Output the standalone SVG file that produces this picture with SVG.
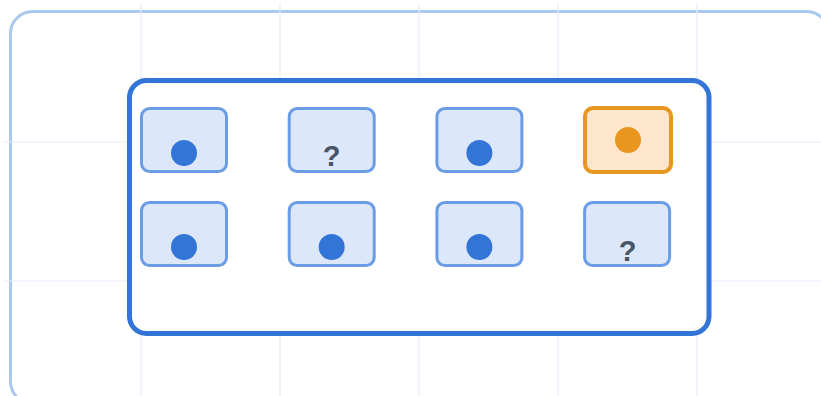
<svg xmlns="http://www.w3.org/2000/svg" width="821" height="396" viewBox="0 0 821 396">
<style>
.grid{stroke:#e4edfb;stroke-width:1.2;fill:none}
.frame{fill:#ffffff;stroke:#aac7f0;stroke-width:3}
.box{fill:#ffffff;stroke:#3375d6;stroke-width:5}
.cell{fill:#dce8f9;stroke:#6a9de5;stroke-width:3}
.hot{fill:#fde6cc;stroke:#e8961f;stroke-width:4}
.dot{fill:#3375d6}
.odot{fill:#e8961f}
.q{font-family:"Liberation Sans",Arial,sans-serif;font-weight:bold;font-size:29px;fill:#4a5467;text-anchor:middle}
</style>
<rect width="821" height="396" fill="#ffffff"/>
<rect class="frame" x="10.5" y="11.5" width="818" height="392" rx="22"/>
<g class="grid">
<line x1="141" y1="3" x2="141" y2="396"/>
<line x1="280" y1="3" x2="280" y2="396"/>
<line x1="419" y1="3" x2="419" y2="396"/>
<line x1="558" y1="3" x2="558" y2="396"/>
<line x1="697" y1="3" x2="697" y2="396"/>
<line x1="3" y1="142" x2="821" y2="142"/>
<line x1="3" y1="281" x2="821" y2="281"/>
</g>
<g id="container">
<rect class="box" x="129.5" y="80.5" width="579.5" height="253" rx="17"/>
</g>
<g id="cell-1-1"><rect class="cell" x="141.5" y="108.5" width="85" height="63" rx="8"/><circle class="dot" cx="184" cy="153" r="13"/></g>
<g id="cell-1-2"><rect class="cell" x="289.2" y="108.5" width="85" height="63" rx="8"/><text class="q" x="331.7" y="166">?</text></g>
<g id="cell-1-3"><rect class="cell" x="436.9" y="108.5" width="85" height="63" rx="8"/><circle class="dot" cx="479.4" cy="153" r="13"/></g>
<g id="cell-1-4"><rect class="hot" x="585" y="108" width="86" height="64" rx="8"/><circle class="odot" cx="628" cy="140" r="13"/></g>
<g id="cell-2-1"><rect class="cell" x="141.5" y="202.5" width="85" height="63" rx="8"/><circle class="dot" cx="184" cy="247" r="13"/></g>
<g id="cell-2-2"><rect class="cell" x="289.2" y="202.5" width="85" height="63" rx="8"/><circle class="dot" cx="331.7" cy="247" r="13"/></g>
<g id="cell-2-3"><rect class="cell" x="436.9" y="202.5" width="85" height="63" rx="8"/><circle class="dot" cx="479.4" cy="247" r="13"/></g>
<g id="cell-2-4"><rect class="cell" x="584.6" y="202.5" width="85" height="63" rx="8"/><text class="q" x="627.5" y="261">?</text></g>
<g id="connectors"></g>
</svg>
